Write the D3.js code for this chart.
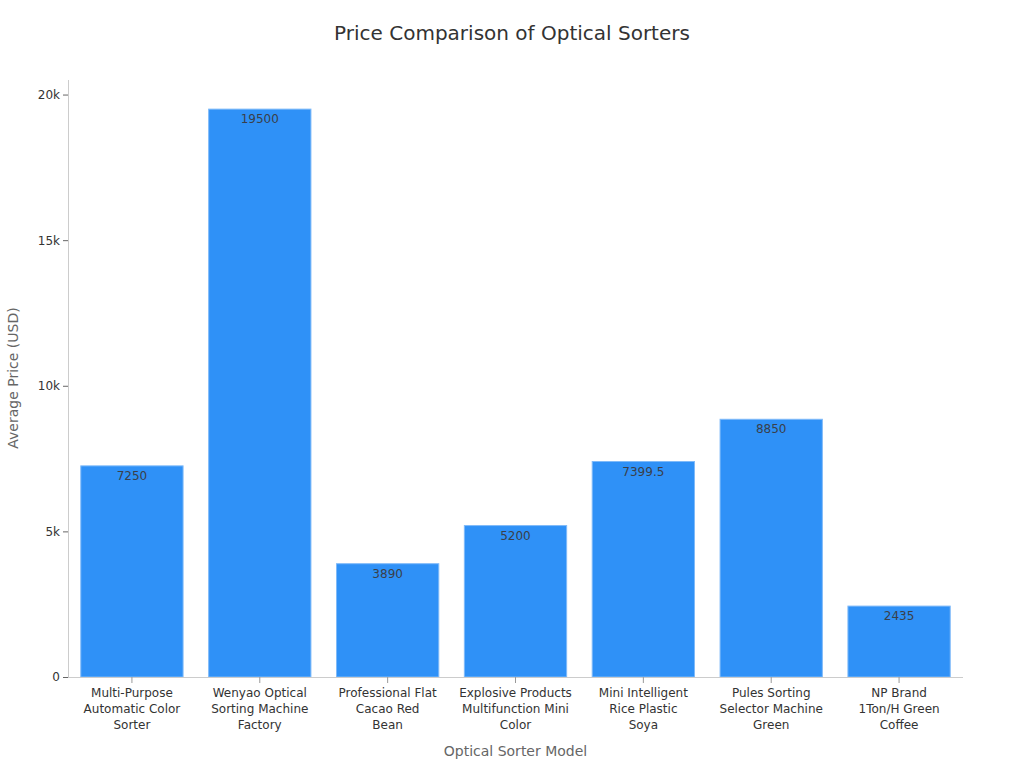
<!DOCTYPE html>
<html>
<head>
<meta charset="utf-8">
<script src="https://cdn.jsdelivr.net/npm/d3@7"></script>
<style>
	body { margin: 0; background: #fff; }
	svg text { font-family: 'DejaVu Sans', sans-serif; }
</style>
</head>
<body>
<svg id="chart" width="1024" height="768"></svg>
<script>
var models = [
	['Multi-Purpose', 'Automatic Color', 'Sorter'],
	['Wenyao Optical', 'Sorting Machine', 'Factory'],
	['Professional Flat', 'Cacao Red', 'Bean'],
	['Explosive Products', 'Multifunction Mini', 'Color'],
	['Mini Intelligent', 'Rice Plastic', 'Soya'],
	['Pules Sorting', 'Selector Machine', 'Green'],
	['NP Brand', '1Ton/H Green', 'Coffee']
];
var prices = [7250, 19500, 3890, 5200, 7399.5, 8850, 2435];
var yTicks = [0, 5000, 10000, 15000, 20000];
var yTickLabels = ['0', '5k', '10k', '15k', '20k'];

var svg = d3.select('#chart'),
	margin = { top: 80, right: 61, bottom: 91, left: 68 },
	width = +svg.attr('width') - margin.left - margin.right,
	height = +svg.attr('height') - margin.top - margin.bottom,
	g = svg.append('g').attr('transform', 'translate(' + margin.left + ',' + margin.top + ')');

var idx = d3.range(models.length);

var scaleX = d3.scaleBand().domain(idx).range([0, width]).paddingInner(0.2).paddingOuter(0.1);
var scaleY = d3.scaleLinear().domain([0, 20500]).range([height, 0]);

svg.append('text')
	.attr('x', 512)
	.attr('y', 40)
	.attr('text-anchor', 'middle')
	.attr('font-size', 20)
	.attr('fill', '#333')
	.text('Price Comparison of Optical Sorters');

// bars
g.selectAll('rect.bar')
	.data(prices)
	.enter().append('rect')
	.attr('class', 'bar')
	.attr('x', function (d, i) { return scaleX(i); })
	.attr('y', function (d) { return scaleY(d); })
	.attr('width', scaleX.bandwidth())
	.attr('height', function (d) { return height - scaleY(d); })
	.attr('fill', '#2f91f7')
	.attr('stroke', '#7fbaf9')
	.attr('stroke-width', 1);

g.selectAll('text.val')
	.data(prices)
	.enter().append('text')
	.attr('class', 'val')
	.attr('x', function (d, i) { return scaleX(i) + scaleX.bandwidth() / 2; })
	.attr('y', function (d) { return scaleY(d) + 14; })
	.attr('text-anchor', 'middle')
	.attr('font-size', 12)
	.attr('fill', '#3a3f4a')
	.text(function (d) { return d; });

// y axis
var yAxis = g.append('g')
	.call(d3.axisLeft(scaleY).tickValues(yTicks).tickFormat(function (d, i) { return yTickLabels[i]; }).tickSize(5).tickPadding(3));
yAxis.select('.domain').attr('stroke', '#ccc').attr('d', 'M0.5,0V' + height);
yAxis.selectAll('.tick line').attr('stroke', '#666');
yAxis.selectAll('.tick text').attr('font-size', 12).attr('fill', '#333').attr('font-family', 'DejaVu Sans, sans-serif');

// x axis
var xAxis = g.append('g')
	.attr('transform', 'translate(0,' + height + ')')
	.call(d3.axisBottom(scaleX).tickSize(6).tickFormat(''));
xAxis.select('.domain').attr('stroke', '#ccc').attr('d', 'M0,0.5H' + width);
xAxis.selectAll('.tick line').attr('stroke', '#999');

xAxis.selectAll('.tick').append('text')
	.attr('text-anchor', 'middle')
	.attr('font-size', 12)
	.attr('fill', '#333')
	.selectAll('tspan')
	.data(function (d) { return models[d]; })
	.enter().append('tspan')
	.attr('x', 0)
	.attr('y', function (d, i) { return 20 + i * 16; })
	.text(function (d) { return d; });

svg.append('text')
	.attr('x', margin.left + width / 2)
	.attr('y', 756)
	.attr('text-anchor', 'middle')
	.attr('font-size', 14)
	.attr('fill', '#666')
	.text('Optical Sorter Model');

svg.append('text')
	.attr('transform', 'rotate(-90)')
	.attr('x', -378)
	.attr('y', 18)
	.attr('text-anchor', 'middle')
	.attr('font-size', 14)
	.attr('fill', '#666')
	.text('Average Price (USD)');
</script>
</body>
</html>
